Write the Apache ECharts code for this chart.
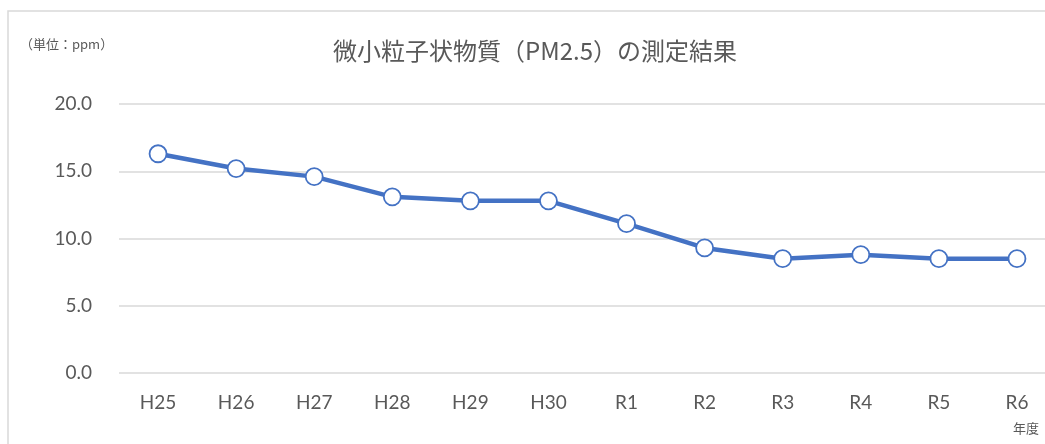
<!DOCTYPE html>
<html><head><meta charset="utf-8">
<script src="https://cdn.jsdelivr.net/npm/echarts@6/dist/echarts.min.js"></script>
<style>html,body{margin:0;padding:0;background:#fff;overflow:hidden}#c{width:1060px;height:444px}</style>
</head><body><div id="c"></div>
<script>
const categories = ['H25','H26','H27','H28','H29','H30','R1','R2','R3','R4','R5','R6'];
const values = [16.3, 15.2, 14.6, 13.1, 12.8, 12.8, 11.1, 9.3, 8.5, 8.8, 8.5, 8.5];
const titleText = '微小粒子状物質（PM2.5）の測定結果';
const unitText = '（単位：ppm）';
const xName = '年度';

const chart = echarts.init(document.getElementById('c'), null, {renderer:'canvas'});
chart.setOption({
  animation:false,
  backgroundColor:'#fff',
  title:{text:titleText,left:530,top:34,textAlign:'center',
    textStyle:{fontFamily:'"Noto Sans CJK JP"',fontSize:24,fontWeight:'normal',color:'#595959'}},
  graphic:[
    {type:'rect',shape:{x:8,y:11,width:1100,height:500},style:{fill:'none',stroke:'#d9d9d9',lineWidth:1.5},silent:true},
    {type:'text',left:20,top:38,style:{text:unitText,fontFamily:'"Noto Sans CJK JP"',fontSize:13,fill:'#595959'}},
    {type:'text',left:1013,top:422,style:{text:xName,fontFamily:'"Noto Sans CJK JP"',fontSize:13,fill:'#595959'}}
  ],
  grid:{left:119,top:104,width:937,height:269,containLabel:false},
  xAxis:{type:'category',data:categories,boundaryGap:true,
    axisLine:{show:false},axisTick:{show:false},
    axisLabel:{margin:20,fontFamily:'Lato',fontSize:19,color:'#595959'}},
  yAxis:{type:'value',min:0,max:20,interval:5,
    axisLine:{show:false},axisTick:{show:false},
    splitLine:{lineStyle:{color:'#d9d9d9',width:1.5}},
    axisLabel:{margin:27,fontFamily:'Lato',fontSize:19,color:'#595959',
      formatter:v=>v.toFixed(1)}},
  series:[{type:'line',data:values,symbol:'circle',symbolSize:17,
    lineStyle:{color:'#4472C4',width:4.5},
    itemStyle:{color:'#fff',borderColor:'#4472C4',borderWidth:1.8},
    z:3}]
});
</script></body></html>
